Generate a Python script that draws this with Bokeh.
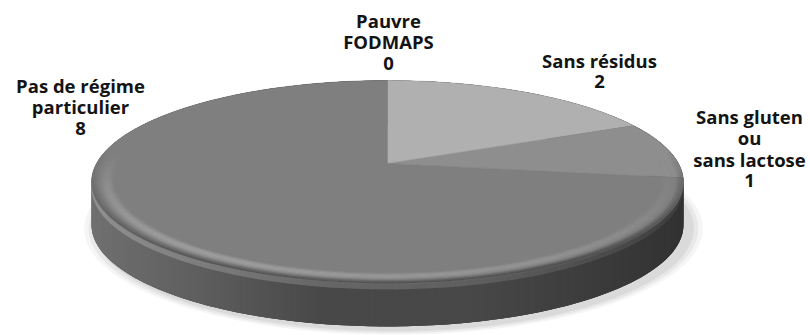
import numpy as np
from bokeh.plotting import figure
from bokeh.models import Range1d, ColumnDataSource
from bokeh.core.properties import value
from bokeh.embed import file_html
from bokeh.resources import INLINE

# ---------------- data ----------------
categories = ["Pauvre FODMAPS", "Sans résidus", "Sans gluten ou sans lactose",
              "Pas de régime particulier"]
counts = [0, 2, 1, 8]
label_lines = [["Pauvre", "FODMAPS"], ["Sans résidus"],
               ["Sans gluten", "ou", "sans lactose"],
               ["Pas de régime", "particulier"]]

# ---------------- style / layout ----------------
slice_colors = ["#9a9a9a", "#b0b0b0", "#8e8e8e", "#7f7f7f"]
label_pos = [(388, 20), (599, 60), (749, 116), (80, 85)]   # centre of first line
LINE_STEP = 21.3

CX, CY = 387.0, 163.0          # projected pie centre (slice vertex)
A0, B0, K = 291.0, 98.1, 0.182  # perspective ellipse parameters
DEPTH = 43.0


def proj(theta, r=1.0):
    u = r * np.sin(theta)
    v = r * np.cos(theta)
    d = 1.0 + K * v
    return CX + A0 * u / d, CY - B0 * v / d


def lerp_col(c1, c2, t):
    t = min(max(t, 0.0), 1.0)
    return tuple(int(round(a + (b - a) * t)) for a, b in zip(c1, c2))


def hexc(c):
    return "#%02x%02x%02x" % c


p = figure(width=810, height=335, output_backend="svg", toolbar_location=None,
           x_range=Range1d(0, 810), y_range=Range1d(335, 0), min_border=0)
p.axis.visible = False
p.grid.visible = False
p.outline_line_color = None
p.background_fill_color = "white"
p.border_fill_color = "white"

# ---------- soft shadow ----------
th = np.linspace(0, 2 * np.pi, 361)
for s, al in [(1.045, 0.04), (1.03, 0.05), (1.015, 0.06)]:
    x, y = proj(th, 1.0)
    x = CX + (x - CX) * s + 6
    y = CY + (y - CY) * s + DEPTH + 3
    p.patch(list(x), list(y), fill_color="#000000", fill_alpha=al, line_color=None)

# ---------- side wall ----------
n = 360
ths = np.linspace(0, 2 * np.pi, n + 1)
bx_, by_ = proj(ths)
p.patch(list(bx_) + list(bx_[::-1]), list(by_) + list((by_ + DEPTH)[::-1]),
        fill_color="#4c4c4c", line_color=None)
xs_side, ys_side, cols_side = [], [], []
left_c, mid_c, right_c = (0x70, 0x70, 0x70), (0x48, 0x48, 0x48), (0x32, 0x32, 0x32)
for i in range(n):
    t0, t1 = ths[i], ths[min(i + 2, n)]
    x0, y0 = proj(t0)
    x1, y1 = proj(t1)
    xs_side.append([x0, x1, x1, x0])
    ys_side.append([y0, y1, y1 + DEPTH, y0 + DEPTH])
    xm = (x0 + x1) / 2
    if xm < CX:
        c = lerp_col(left_c, mid_c, (xm - (CX - 296)) / 230)
    else:
        c = lerp_col(mid_c, right_c, (xm - CX - 80) / 216)
    cols_side.append(hexc(c))
p.patches(xs_side, ys_side, fill_color=cols_side, line_color=None)

# upper edge of the side a touch lighter (rounded edge)
ex, ey, ea = [], [], []
for i in range(n):
    tm = (ths[i] + ths[i + 1]) / 2
    if np.cos(tm) > 0.2:
        continue
    t0, t1 = ths[i], ths[min(i + 2, n)]
    x0, y0 = proj(t0)
    x1, y1 = proj(t1)
    ex.append([x0, x1, x1, x0])
    ey.append([y0, y1, y1 + 6, y0 + 6])
    ea.append(0.10 * (0.5 - 0.5 * np.sin(tm)) + 0.03)
p.patches(ex, ey, fill_color="#ffffff", fill_alpha=ea, line_color=None)

# ---------- top slices ----------
total = float(sum(counts))
start = 0.0
xs_top, ys_top, cols_top = [], [], []
for cat, cnt, col in zip(categories, counts, slice_colors):
    if cnt <= 0:
        continue
    end = start + 2 * np.pi * cnt / total
    t = np.linspace(start, end, max(int(cnt * 60), 10))
    ax, ay = proj(t)
    xs_top.append([CX] + list(ax))
    ys_top.append([CY] + list(ay))
    cols_top.append(col)
    start = end
p.patches(xs_top, ys_top, fill_color=cols_top, line_color=cols_top, line_width=0.5)

# ---------- smooth bevel on the rim ----------
radii = np.linspace(0.925, 1.0, 11)
bx, by, bcol, balpha = [], [], [], []
for i in range(n):
    tm = (ths[i] + ths[i + 1]) / 2
    front = -np.cos(tm)
    fr = min(max(front + 0.15, 0.0), 1.0)
    if fr <= 0:
        continue
    side_left = 0.5 - 0.5 * np.sin(tm)
    t0, t1 = ths[i], ths[min(i + 2, n)]
    for k in range(len(radii) - 1):
        r_in, r_out = radii[k], radii[k + 1]
        s = (k + 0.5) / (len(radii) - 1)   # 0 inner -> 1 outer
        xi0, yi0 = proj(t0, r_in)
        xi1, yi1 = proj(t1, r_in)
        xo0, yo0 = proj(t0, r_out)
        xo1, yo1 = proj(t1, r_out)
        bx.append([xi0, xi1, xo1, xo0])
        by.append([yi0, yi1, yo1, yo0])
        if s < 0.65:
            # highlight rising towards the middle of the bevel
            h = np.sin(np.pi * s / 0.65)
            bcol.append("#c4c4c4")
            balpha.append(0.32 * h * fr * (0.35 + 0.65 * side_left))
        else:
            d = (s - 0.65) / 0.35
            bcol.append("#303030")
            balpha.append(0.5 * d * fr * (0.6 + 0.4 * (1 - side_left)))
p.patches(bx, by, fill_color=bcol, fill_alpha=balpha, line_color=None)

# ---------- labels ----------
tx, ty, tt = [], [], []
for lines, cnt, (lx, ly) in zip(label_lines, counts, label_pos):
    for j, s in enumerate(lines + [str(cnt)]):
        tx.append(lx)
        ty.append(ly + j * LINE_STEP)
        tt.append(s)
src = ColumnDataSource(dict(x=tx, y=ty, text=tt))
p.text(x="x", y="y", text="text", source=src, text_font=value("Open Sans"),
       text_font_style="bold", text_font_size="18.5px", text_align="center",
       text_baseline="middle", text_color="#141414")

open("out.html", "w").write(file_html(p, INLINE))
